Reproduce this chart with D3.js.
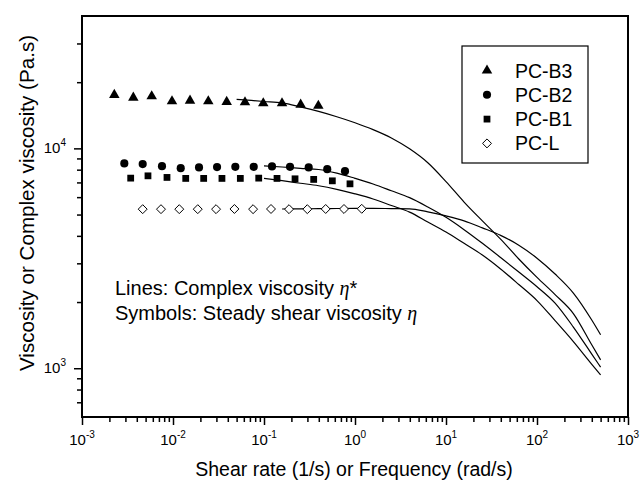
<!DOCTYPE html>
<html><head><meta charset="utf-8">
<script src="https://cdn.jsdelivr.net/npm/d3@7"></script>
<style>body{margin:0;background:#fff}text{font-family:"Liberation Sans",Arial,sans-serif;fill:#000}</style>
</head><body><svg id="c" width="640" height="481"></svg>
<script>
// ---- Data ----
const seriesNames = ["PC-B3", "PC-B2", "PC-B1", "PC-L"];

// Steady shear viscosity (symbols)
const b3Rate = [0.002265, 0.003664, 0.005834, 0.00975, 0.01538, 0.02443, 0.0389, 0.0618, 0.09817, 0.1578, 0.2529, 0.3954];
const b3Eta  = [17500, 17000, 17260, 16370, 16480, 16370, 16260, 16210, 16040, 16040, 15810, 15630];
const b2Rate = [0.002917, 0.004645, 0.007568, 0.01216, 0.01932, 0.03048, 0.04842, 0.07709, 0.1225, 0.1932, 0.3097, 0.4955, 0.7762];
const b2Eta  = [8545, 8483, 8300, 8128, 8190, 8218, 8243, 8243, 8278, 8243, 8190, 8044, 7878];
const b1Rate = [0.003428, 0.005309, 0.00859, 0.0138, 0.02173, 0.03451, 0.05495, 0.0875, 0.139, 0.2193, 0.3516, 0.5636, 0.881];
const b1Eta  = [7322, 7500, 7376, 7300, 7300, 7300, 7300, 7322, 7300, 7270, 7224, 7118, 6898];
const lRate  = [0.004645, 0.007379, 0.01172, 0.01871, 0.02972, 0.04732, 0.07586, 0.1194, 0.1884, 0.2992, 0.4764, 0.7568, 1.186];
const lEta   = [5290, 5290, 5290, 5290, 5290, 5300, 5290, 5300, 5290, 5290, 5300, 5300, 5310];

// Complex viscosity (lines)
const b3Freq = [0.05, 0.1, 0.158, 0.251, 0.398, 0.631, 1, 1.58, 2.51, 3.98, 6.31, 10, 15.8, 25.1, 39.8, 63.1, 100, 158, 251, 398, 500];
const b3EtaStar = [16720, 16340, 16090, 15440, 14730, 13930, 13080, 12170, 11150, 9950, 8600, 7060, 5700, 4680, 3865, 3140, 2590, 2163, 1773, 1282, 1092];
const bFreq = [0.1, 0.158, 0.251, 0.398, 0.631, 1, 1.58, 2.51, 3.98, 6.31, 10, 15.8, 25.1, 39.8, 63.1, 100, 158, 251, 398, 500];
const b2EtaStar = [8330, 8226, 8115, 8013, 7716, 7305, 6884, 6416, 5968, 5413, 4857, 4269, 3702, 3189, 2739, 2348, 1978, 1539, 1162, 1011];
const b1EtaStar = [7300, 7126, 6941, 6761, 6511, 6211, 5887, 5498, 5130, 4624, 4163, 3698, 3273, 2829, 2404, 2031, 1646, 1322, 1045, 933];
const lFreq = [0.158, 0.251, 0.398, 0.631, 1, 1.58, 2.51, 3.98, 6.31, 10, 15.8, 25.1, 39.8, 63.1, 100, 158, 251, 398, 500];
const lEtaStar = [5299, 5311, 5316, 5327, 5333, 5333, 5322, 5311, 5146, 4929, 4682, 4350, 4021, 3628, 3166, 2682, 2197, 1662, 1420];

const xMajor = [1e-3, 1e-2, 1e-1, 1e0, 1e1, 1e2, 1e3];
const xExp = ["-3", "-2", "-1", "0", "1", "2", "3"];
const yMajor = [1e3, 1e4];
const yExp = ["3", "4"];

// ---- Chart ----
const svg = d3.select("#c");
const L = 82, R = 628, T = 16, B = 417;
const x = d3.scaleLog().domain([1e-3, 1e3]).range([L, R]);
const y = d3.scaleLog().domain([600, 40000]).range([B, T]);

const xMinor = [];
for (let e = -3; e < 3; e++) for (let m = 2; m <= 9; m++) xMinor.push(m * Math.pow(10, e));
const yMinor = [700, 800, 900, 2000, 3000, 4000, 5000, 6000, 7000, 8000, 9000, 20000, 30000];

const gx = svg.append("g").attr("transform", `translate(0,${B})`);
gx.call(d3.axisBottom(x).tickValues(xMinor).tickSize(5).tickFormat(""));
gx.append("g").call(d3.axisBottom(x).tickValues(xMajor).tickSize(8).tickFormat(""));
const gy = svg.append("g").attr("transform", `translate(${L},0)`);
gy.call(d3.axisLeft(y).tickValues(yMinor).tickSize(5).tickFormat(""));
gy.append("g").call(d3.axisLeft(y).tickValues(yMajor).tickSize(8).tickFormat(""));
svg.selectAll(".domain").remove();
svg.selectAll(".tick line").attr("stroke", "#000").attr("stroke-width", 1.5);

svg.append("rect").attr("x", L).attr("y", T).attr("width", R - L).attr("height", B - T)
  .attr("fill", "none").attr("stroke", "#000").attr("stroke-width", 2);

// tick labels
xMajor.forEach((v, i) => {
  const t = svg.append("text").attr("x", x(v)).attr("y", 445).attr("text-anchor", "middle").attr("font-size", 15);
  t.append("tspan").text("10");
  t.append("tspan").attr("dy", -7).attr("font-size", 10).text(xExp[i]);
});
yMajor.forEach((v, i) => {
  const t = svg.append("text").attr("x", 66).attr("y", y(v) + 5).attr("text-anchor", "end").attr("font-size", 15);
  t.append("tspan").text("10");
  t.append("tspan").attr("dy", -7).attr("font-size", 10).text(yExp[i]);
});

// axis titles
svg.append("text").attr("x", 354).attr("y", 476).attr("text-anchor", "middle").attr("font-size", 19.5)
  .text("Shear rate (1/s) or Frequency (rad/s)");
svg.append("text").attr("transform", "translate(34,203) rotate(-90)").attr("text-anchor", "middle").attr("font-size", 20.6)
  .text("Viscosity or Complex viscosity (Pa.s)");

// lines
const line = d3.line().x(d => x(d[0])).y(d => y(d[1])).curve(d3.curveMonotoneX);
const lines = [
  [b3Freq, b3EtaStar], [bFreq, b2EtaStar], [bFreq, b1EtaStar], [lFreq, lEtaStar]
];
lines.forEach(([f, e]) => {
  svg.append("path").datum(f.map((v, i) => [v, e[i]])).attr("d", line)
    .attr("fill", "none").attr("stroke", "#000").attr("stroke-width", 1.2);
});

// symbols
const diamond = { draw(ctx, size) { const r = Math.sqrt(size / 2); ctx.moveTo(0, -r); ctx.lineTo(r, 0); ctx.lineTo(0, r); ctx.lineTo(-r, 0); ctx.closePath(); } };
const sym = [
  { rate: b3Rate, eta: b3Eta, type: d3.symbolTriangle, size: 48, fill: "#000" },
  { rate: b2Rate, eta: b2Eta, type: d3.symbolCircle, size: 52, fill: "#000" },
  { rate: b1Rate, eta: b1Eta, type: d3.symbolSquare, size: 46, fill: "#000" },
  { rate: lRate, eta: lEta, type: diamond, size: 40, fill: "#fff" }
];
sym.forEach(s => {
  svg.append("g").selectAll("path").data(s.rate.map((v, i) => [v, s.eta[i]])).join("path")
    .attr("transform", d => `translate(${x(d[0])},${y(d[1])})`)
    .attr("d", d3.symbol().type(s.type).size(s.size))
    .attr("fill", s.fill).attr("stroke", "#000").attr("stroke-width", s.fill === "#fff" ? 1 : 0);
});

// legend
svg.append("rect").attr("x", 462).attr("y", 46).attr("width", 126).attr("height", 117)
  .attr("fill", "none").attr("stroke", "#000").attr("stroke-width", 1.2);
sym.forEach((s, i) => {
  const yy = 70.5 + i * 24.3;
  svg.append("path").attr("transform", `translate(487,${yy})`).attr("d", d3.symbol().type(s.type).size(s.size))
    .attr("fill", s.fill).attr("stroke", "#000").attr("stroke-width", s.fill === "#fff" ? 1 : 0);
  svg.append("text").attr("x", 515).attr("y", yy + 7).attr("font-size", 19.5).text(seriesNames[i]);
});

// annotation
const a1 = svg.append("text").attr("x", 115).attr("y", 295).attr("font-size", 20);
a1.append("tspan").text("Lines: Complex viscosity ");
a1.append("tspan").attr("font-family", "Liberation Serif,serif").attr("font-style", "italic").text("η");
a1.append("tspan").text("*");
const a2 = svg.append("text").attr("x", 115).attr("y", 320).attr("font-size", 20);
a2.append("tspan").text("Symbols: Steady shear viscosity ");
a2.append("tspan").attr("font-family", "Liberation Serif,serif").attr("font-style", "italic").text("η");
</script></body></html>
